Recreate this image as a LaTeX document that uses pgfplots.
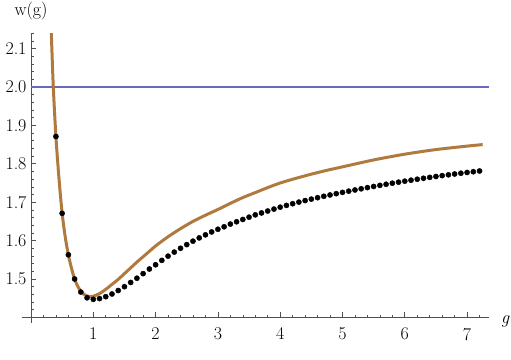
\documentclass[border=0pt]{standalone}
\usepackage{pgfplots}
\pgfplotsset{compat=1.18}
\definecolor{brownc}{RGB}{176,122,62}
\definecolor{refl}{RGB}{105,105,190}
\definecolor{axc}{RGB}{80,80,80}
\begin{document}
\begin{tikzpicture}
\useasboundingbox (0,0) rectangle (511bp,360bp);
\begin{axis}[
  at={(31bp,42.6bp)}, anchor=south west,
  scale only axis, width=457.9bp, height=284.2bp,
  xmin=0, xmax=7.35, ymin=1.4, ymax=2.14,
  axis lines*=left,
  axis line style={axc, line width=0.7bp},
  tick style={axc, line width=0.6bp},
  tick align=inside,
  major tick length=5bp, minor tick length=2.7bp,
  xtick={1,2,3,4,5,6,7},
  minor xtick={0.2,0.4,0.6,0.8,1.2,1.4,1.6,1.8,2.2,2.4,2.6,2.8,3.2,3.4,3.6,3.8,4.2,4.4,4.6,4.8,5.2,5.4,5.6,5.8,6.2,6.4,6.6,6.8,7.2},
  ytick={1.5,1.6,1.7,1.8,1.9,2.0,2.1},
  yticklabels={1.5,1.6,1.7,1.8,1.9,2.0,2.1},
  minor ytick={1.42,1.44,1.46,1.48,1.52,1.54,1.56,1.58,1.62,1.64,1.66,1.68,1.72,1.74,1.76,1.78,1.82,1.84,1.86,1.88,1.92,1.94,1.96,1.98,2.02,2.04,2.06,2.08,2.12,2.14},
  /pgf/number format/assume math mode=true,
  ticklabel style={font=\fontsize{18}{21}\selectfont, black},
  xticklabel style={yshift=-7bp},
  yticklabel style={xshift=-1bp},
  clip=true,
]
\addplot[refl, line width=1.1bp] coordinates {(0,2) (7.35,2)};
\addplot[only marks, mark=*, mark size=2.6bp, black] coordinates {
(0.4,1.871) (0.5,1.671) (0.6,1.563) (0.7,1.500) (0.8,1.466) (0.9,1.451)
(1.0,1.447) (1.1,1.449) (1.2,1.454) (1.3,1.461) (1.4,1.470) (1.5,1.480)
(1.6,1.491) (1.7,1.502) (1.8,1.514) (1.9,1.526) (2.0,1.537) (2.1,1.5485)
(2.2,1.5595) (2.3,1.570) (2.4,1.580) (2.5,1.5895) (2.6,1.5985) (2.7,1.607)
(2.8,1.615) (2.9,1.6225) (3.0,1.6295) (3.1,1.636) (3.2,1.643) (3.3,1.649)
(3.4,1.655) (3.5,1.661) (3.6,1.667) (3.7,1.672) (3.8,1.677) (3.9,1.682)
(4.0,1.687) (4.1,1.6916) (4.2,1.696) (4.3,1.7002) (4.4,1.7042) (4.5,1.708)
(4.6,1.7117) (4.7,1.7153) (4.8,1.7188) (4.9,1.7222) (5.0,1.7255) (5.1,1.7287)
(5.2,1.7318) (5.3,1.7349) (5.4,1.7379) (5.5,1.7409) (5.6,1.7438) (5.7,1.7466)
(5.8,1.7494) (5.9,1.7521) (6.0,1.7547) (6.1,1.7573) (6.2,1.7598) (6.3,1.7622)
(6.4,1.7646) (6.5,1.7669) (6.6,1.7691) (6.7,1.7713) (6.8,1.7734) (6.9,1.7754)
(7.0,1.7774) (7.1,1.7793) (7.2,1.7812)
};
\addplot[brownc, line width=3bp, smooth] coordinates {
(0.31,2.215) (0.326,2.14) (0.358,2.0) (0.4,1.871) (0.45,1.76) (0.5,1.671)
(0.55,1.609) (0.6,1.563) (0.65,1.528) (0.7,1.500) (0.75,1.481) (0.8,1.468)
(0.85,1.460) (0.9,1.456) (0.95,1.454) (1.0,1.455) (1.1,1.462) (1.2,1.473)
(1.3,1.486) (1.4,1.499) (1.5,1.514) (1.6,1.529) (1.7,1.544) (1.8,1.558)
(1.9,1.572) (2.0,1.586) (2.2,1.610) (2.4,1.631) (2.6,1.650) (2.8,1.666)
(3.0,1.681) (3.2,1.697) (3.4,1.712) (3.6,1.725) (3.8,1.738) (4.0,1.750)
(4.25,1.762) (4.5,1.773) (4.75,1.783) (5.0,1.792) (5.5,1.810) (6.0,1.825)
(6.5,1.837) (7.0,1.846) (7.25,1.850)
};
\end{axis}
\draw[axc, line width=0.7bp] (21.6bp,42.6bp) -- (31bp,42.6bp);
\draw[axc, line width=0.7bp] (31bp,37.3bp) -- (31bp,42.6bp);
\node[font=\fontsize{18}{21}\selectfont, inner sep=0pt] at (31bp,349bp) {w(g)};
\node[font=\fontsize{18}{21}\selectfont\itshape, anchor=west, inner sep=0pt] at (501bp,38.5bp) {g};
\end{tikzpicture}
\end{document}
